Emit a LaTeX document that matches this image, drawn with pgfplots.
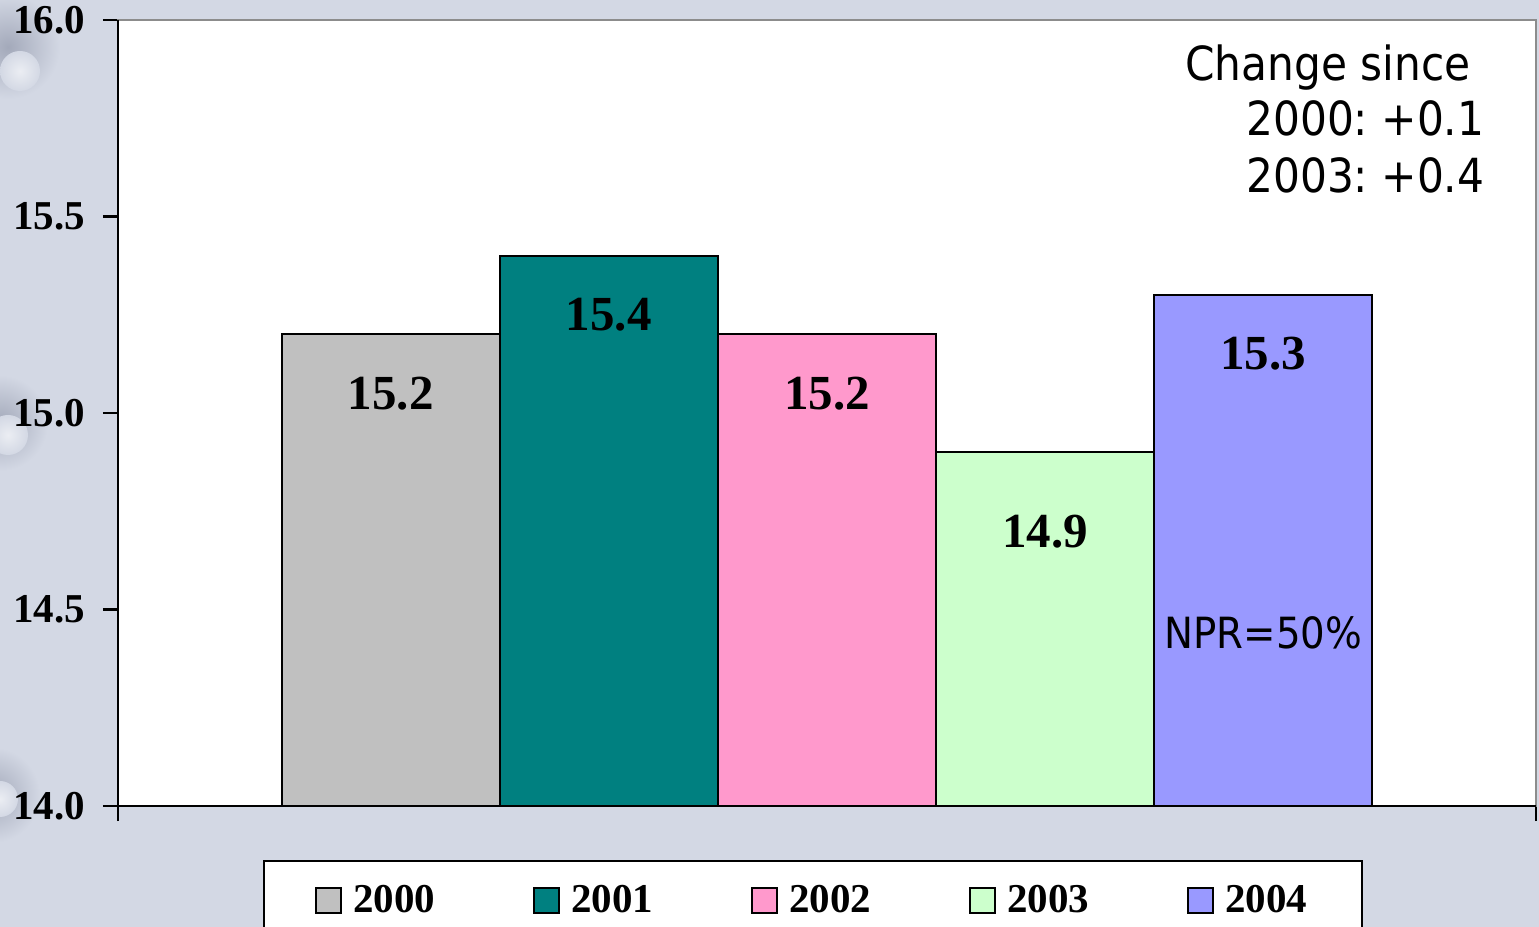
\documentclass[border=0pt]{standalone}
\usepackage{fontspec}
\setmainfont{Liberation Serif}
\newfontfamily\tahoma{DejaVu Sans Condensed}
\usepackage{pgfplots}
\pgfplotsset{compat=1.18}
\definecolor{bgBlue}{HTML}{D3D8E4}
\definecolor{blobDark}{HTML}{A3A9BA}
\definecolor{c2000}{HTML}{C0C0C0}
\definecolor{c2001}{HTML}{008080}
\definecolor{c2002}{HTML}{FF99CC}
\definecolor{c2003}{HTML}{CCFFCC}
\definecolor{c2004}{HTML}{9999FF}
\frenchspacing

\begin{document}
\begin{tikzpicture}
  \useasboundingbox (0,0) rectangle (769.5pt,463.5pt);
  \clip (0,0) rectangle (769.5pt,463.5pt);
  \fill[bgBlue] (0,0) rectangle (769.5pt,463.5pt);
  % soft decorative blobs on the left edge
  \shade[inner color=blobDark, outer color=bgBlue] (4pt,440pt) circle (26pt);
  \shade[inner color=white!55!bgBlue, outer color=bgBlue] (10pt,428pt) circle (10pt);
  \shade[inner color=blobDark, outer color=bgBlue] (0pt,252pt) circle (24pt);
  \shade[inner color=white!55!bgBlue, outer color=bgBlue] (4pt,246pt) circle (10pt);
  \shade[inner color=blobDark, outer color=bgBlue] (-4pt,66pt) circle (24pt);
  \shade[inner color=white!55!bgBlue, outer color=bgBlue] (0pt,64pt) circle (9pt);

  \begin{axis}[
    at={(59pt,60.5pt)}, anchor=south west,
    scale only axis,
    width=709pt, height=393pt,
    xmin=-3.25, xmax=3.25,
    ymin=14, ymax=16,
    ytick={14,14.5,15,15.5,16},
    xtick={-3.25,3.25},
    xticklabels={},
    tick pos=left,
    tick align=outside,
    major tick length=7.5pt,
    tick style={black, line width=1.3pt},
    axis line style={draw=gray!90, line width=1pt},
    axis background/.style={fill=white},
    clip mode=individual,
    ybar, bar width=1, bar shift=0pt,
    /pgf/number format/assume math mode=true,
    /pgf/number format/fixed,
    /pgf/number format/fixed zerofill,
    /pgf/number format/precision=1,
    yticklabel style={font=\fontsize{20.5}{22}\selectfont\bfseries, xshift=-5.5pt},
    nodes near coords,
    nodes near coords style={font=\fontsize{24.5}{26}\selectfont\bfseries, black,
      anchor=center, yshift=-29.5pt},
    legend columns=5,
    legend style={at={(0.1023,-0.0687)}, anchor=north west,
      draw=black, line width=1pt, fill=white,
      font=\fontsize{20.5}{22}\selectfont\bfseries,
      inner xsep=25.5pt, inner ysep=10pt,
      /tikz/every odd column/.append style={column sep=3.5pt},
      /tikz/every even column/.append style={column sep=47pt}},
    legend image code/.code={\draw[#1, line width=1pt] (0pt,-6.25pt) rectangle (12.5pt,6.25pt);},
  ]
    \addplot[fill=c2000, draw=black, line width=1pt] coordinates {(-2,15.2)};
    \addlegendentry{2000}
    \addplot[fill=c2001, draw=black, line width=1pt] coordinates {(-1,15.4)};
    \addlegendentry{2001}
    \addplot[fill=c2002, draw=black, line width=1pt] coordinates {(0,15.2)};
    \addlegendentry{2002}
    \addplot[fill=c2003, draw=black, line width=1pt,
      every node near coord/.append style={yshift=-10pt}] coordinates {(1,14.9)};
    \addlegendentry{2003}
    \addplot[fill=c2004, draw=black, line width=1pt] coordinates {(2,15.3)};
    \addlegendentry{2004}

    \draw[black, line width=1.4pt] (rel axis cs:0,1) -- (rel axis cs:0,0) -- (rel axis cs:1,0);

    \node[font=\tahoma\fontsize{21.5}{24}\selectfont, anchor=center] at (axis cs:2,14.44) {NPR=50\%};
    \node[font=\tahoma\fontsize{23.5}{26}\selectfont, anchor=west, inner sep=0pt] at (rel axis cs:0.7525,0.94) {Change since};
    \node[font=\tahoma\fontsize{23.5}{26}\selectfont, anchor=west, inner sep=0pt] at (rel axis cs:0.7955,0.8753) {2000: +0.1};
    \node[font=\tahoma\fontsize{23.5}{26}\selectfont, anchor=west, inner sep=0pt] at (rel axis cs:0.7955,0.8028) {2003: +0.4};
  \end{axis}
\end{tikzpicture}
\end{document}
